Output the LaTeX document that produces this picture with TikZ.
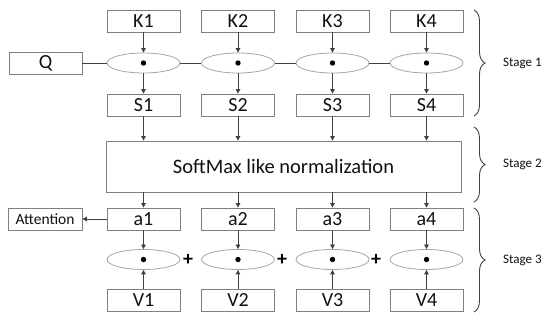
\documentclass[tikz,border=0pt]{standalone}
\usepackage{fontspec}
\setmainfont{Carlito}
\usetikzlibrary{arrows.meta,decorations.pathreplacing,shapes.geometric}
\definecolor{boxgray}{HTML}{7F7F7F}
\definecolor{ellgray}{HTML}{A6A6A6}
\definecolor{linegray}{HTML}{404040}
\definecolor{txt}{HTML}{111111}
\tikzset{
  cell/.style={draw=boxgray, line width=0.8pt, rectangle, minimum width=73pt, minimum height=22pt, inner sep=0pt, font=\fontsize{20}{20}\selectfont, text=txt},
  oval/.style={draw=ellgray, line width=0.8pt, ellipse, minimum width=73pt, minimum height=20pt, inner sep=0pt},
  conn/.style={draw=linegray, line width=0.8pt},
  arr/.style={conn, -{Triangle[length=4.5pt,width=4.5pt]}},
  stagebrace/.style={draw=linegray, line width=0.9pt, decorate, decoration={brace, amplitude=11pt}},
  stagelabel/.style={anchor=west, inner sep=0pt, font=\fontsize{13}{13}\selectfont, text=txt}
}
\begin{document}
\begin{tikzpicture}[x=1pt,y=-1pt]
\useasboundingbox[fill=white] (0,0) rectangle (550,320);
% columns
\foreach \i/\x in {1/143.5,2/238,3/332.5,4/426.5}{
  \node[cell] (K\i) at (\x,21) {K\i};
  \node[oval] (E\i) at (\x,63) {};
  \fill[black] (E\i.center) circle (2.7pt);
  \node[cell] (S\i) at (\x,105) {S\i};
  \node[cell] (A\i) at (\x,219) {a\i};
  \node[oval] (F\i) at (\x,259.5) {};
  \fill[black] (F\i.center) circle (2.7pt);
  \node[cell] (V\i) at (\x,300) {V\i};
}
\node[cell] (Q) at (45.5,63) {Q};
\node[cell, minimum width=74pt, font=\fontsize{15.5}{15.5}\selectfont] (Att) at (45,219) {Attention};
\node[draw=boxgray, line width=0.8pt, rectangle, minimum width=355pt, minimum height=51pt, inner sep=0pt, font=\fontsize{20.5}{20.5}\selectfont, text=txt] (SM) at (283.5,166.5) {SoftMax like normalization};
% stage 1 connectors
\draw[conn] (Q.east) -- (E1.west);
\draw[conn] (E1.east) -- (E2.west);
\draw[conn] (E2.east) -- (E3.west);
\draw[conn] (E3.east) -- (E4.west);
\foreach \i in {1,2,3,4}{
  \draw[arr] (K\i.south) -- (E\i.north);
  \draw[arr] (E\i.south) -- (S\i.north);
  \draw[arr] (S\i.south) -- (S\i.south |- SM.north);
  \draw[arr] (A\i.north |- SM.south) -- (A\i.north);
  \draw[arr] (A\i.south) -- (F\i.north);
  \draw[arr] (V\i.north) -- (F\i.south);
}
\draw[arr] (A1.west) -- (Att.east);
% plus signs
\foreach \j/\x in {p1/188,p2/282,p3/376}{
  \node[inner sep=0pt, font=\fontsize{20}{20}\selectfont\bfseries, text=black] (\j) at (\x,260) {+};
}
% braces
\coordinate (b1t) at (474,10);
\coordinate (b1b) at (474,116);
\coordinate (b2t) at (474,127);
\coordinate (b2b) at (474,202);
\coordinate (b3t) at (474,208);
\coordinate (b3b) at (474,312);
\draw[stagebrace] (b1t) -- (b1b);
\draw[stagebrace] (b2t) -- (b2b);
\draw[stagebrace] (b3t) -- (b3b);
\node[stagelabel] (st1) at (503,63) {Stage 1};
\node[stagelabel] (st2) at (503,164.5) {Stage 2};
\node[stagelabel] (st3) at (503,260) {Stage 3};
\end{tikzpicture}
\end{document}
